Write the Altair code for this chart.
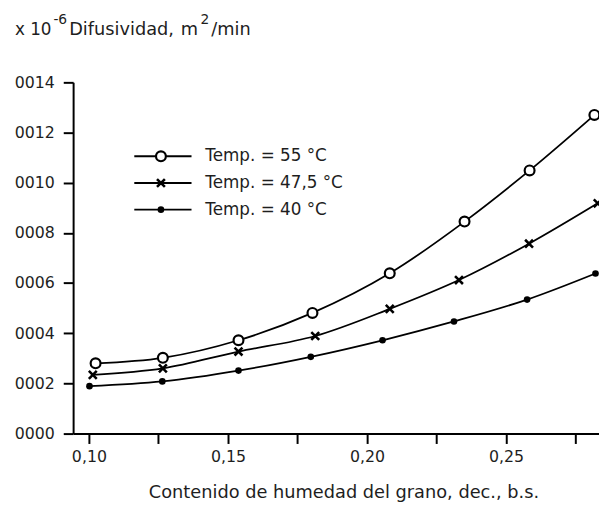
import altair as alt
import pandas as pd

# ---- data ----
series = ["Temp. = 55 °C", "Temp. = 47,5 °C", "Temp. = 40 °C"]

x_55 = [0.1024, 0.1266, 0.1538, 0.1804, 0.2082, 0.2351, 0.2585, 0.2818]
y_55 = [0.000280, 0.000302, 0.000372, 0.000481, 0.000639, 0.000845, 0.001049, 0.001270]

x_475 = [0.1014, 0.1266, 0.1538, 0.1814, 0.2082, 0.2331, 0.2583, 0.2830]
y_475 = [0.000234, 0.000260, 0.000327, 0.000389, 0.000497, 0.000612, 0.000757, 0.000918]

x_40 = [0.1002, 0.1264, 0.1538, 0.1798, 0.2056, 0.2313, 0.2576, 0.2822]
y_40 = [0.000189, 0.000208, 0.000251, 0.000306, 0.000372, 0.000447, 0.000534, 0.000638]

y_ticks = [0, 0.0002, 0.0004, 0.0006, 0.0008, 0.0010, 0.0012, 0.0014]
x_ticks = [0.10, 0.125, 0.15, 0.175, 0.20, 0.225, 0.25, 0.275]

title_parts = ["x 10", "-6", "Difusividad,", "m", "2", "/min"]
x_title = "Contenido de humedad del grano, dec., b.s."

# ---- build tables ----
rows = []
for name, xs, ys in zip(series, [x_55, x_475, x_40], [y_55, y_475, y_40]):
    for i, (a, b) in enumerate(zip(xs, ys)):
        rows.append({"series": name, "x": a, "y": b, "i": i})
df = pd.DataFrame(rows)
leg = pd.DataFrame({"series": series, "row": [0, 1, 2]})

FONT = "DejaVu Sans"
INK = "#1e1e1e"
W, H = 533, 356

xscale = alt.Scale(domain=[0.09432, 0.28346], nice=False, zero=False)
yscale = alt.Scale(domain=[0, 0.0014], nice=False)

xenc = alt.X("x:Q", scale=xscale,
             axis=alt.Axis(values=x_ticks, title=x_title, grid=False,
                           labelExpr="(round((datum.value-0.1)/0.025) % 2 == 0) ? replace(format(datum.value, '.2f'), '.', ',') : ''",
                           domainColor="black", domainWidth=2, tickColor="black", tickWidth=2,
                           tickSize=10, labelPadding=5, labelFontSize=16, labelFont=FONT,
                           labelColor=INK, titleFont=FONT, titleFontSize=18,
                           titleFontWeight="normal", titleColor=INK,
                           titleX=274, titleY=65, titleBaseline="alphabetic",
                           labelFlush=False))
yenc = alt.Y("y:Q", scale=yscale,
             axis=alt.Axis(values=y_ticks, title=None, grid=False,
                           labelExpr="replace(format(datum.value, '.4f'), '0.', '')",
                           domainColor="black", domainWidth=2, tickColor="black", tickWidth=2,
                           tickSize=10, labelPadding=9, labelFontSize=16, labelFont=FONT,
                           labelColor=INK, labelFlush=False))

base = alt.Chart(df)
lines = base.mark_line(color="black", strokeWidth=1.8, interpolate="monotone").encode(
    x=xenc, y=yenc, detail="series:N")

CROSS = "M-1,-1L1,1M-1,1L1,-1"

def pts(name, shape, filled, size, sw):
    m = alt.Chart(df).transform_filter(alt.datum.series == name).mark_point(
        shape=shape, filled=filled, size=size, color="black",
        strokeWidth=sw, opacity=1, fill="white" if not filled else "black")
    return m.encode(x=alt.X("x:Q", scale=xscale), y=alt.Y("y:Q", scale=yscale))

p55 = pts(series[0], "circle", False, 100, 2.2)
p475 = pts(series[1], CROSS, False, 64, 2.6)
p40 = pts(series[2], "circle", True, 45, 1)

# ---- manual legend ----
ly = alt.Y("row:Q", scale=alt.Scale(domain=[0, 2], range=[75, 129]), axis=None)
lbase = alt.Chart(leg)
leg_lines = lbase.mark_rule(color="black", strokeWidth=2).encode(
    x=alt.value(62), x2=alt.value(120), y=ly)

def lpt(name, shape, filled, size, sw):
    return lbase.transform_filter(alt.datum.series == name).mark_point(
        shape=shape, filled=filled, size=size, color="black", strokeWidth=sw,
        opacity=1, fill="white" if not filled else "black").encode(x=alt.value(89), y=ly)

leg_p = [lpt(series[0], "circle", False, 100, 2.2),
         lpt(series[1], CROSS, False, 64, 2.6),
         lpt(series[2], "circle", True, 45, 1)]
leg_text = lbase.mark_text(align="left", baseline="middle", font=FONT, fontSize=17,
                           color=INK).encode(x=alt.value(134), y=ly, text="series:N")

# ---- title pieces (superscripts raised) ----
def tpart(txt, xpos, ypos, size):
    return alt.Chart(pd.DataFrame({"t": [txt]})).mark_text(
        align="left", baseline="alphabetic", font=FONT, fontSize=size, color=INK).encode(
        x=alt.value(xpos), y=alt.value(ypos), text="t:N")

title_layers = [
    tpart(title_parts[0], -59, -48, 17),
    tpart(title_parts[1], -20, -59, 14),
    tpart(title_parts[2], -4, -48, 18),
    tpart(title_parts[3], 109, -48, 18),
    tpart(title_parts[4], 129, -59, 14),
    tpart(title_parts[5], 140, -48, 18),
]

data_layer = alt.layer(lines, p55, p475, p40)
legend_layer = alt.layer(leg_lines, *leg_p, leg_text)

chart = alt.layer(data_layer, legend_layer, *title_layers).resolve_scale(y="independent").properties(
    width=W, height=H,
    autosize=alt.AutoSizeParams(type="none"),
    padding={"left": 66, "top": 72, "right": 0, "bottom": 68},
    background="white",
).configure_view(stroke=None)

chart.save("out.html", embed_options={"renderer": "svg", "actions": False})
